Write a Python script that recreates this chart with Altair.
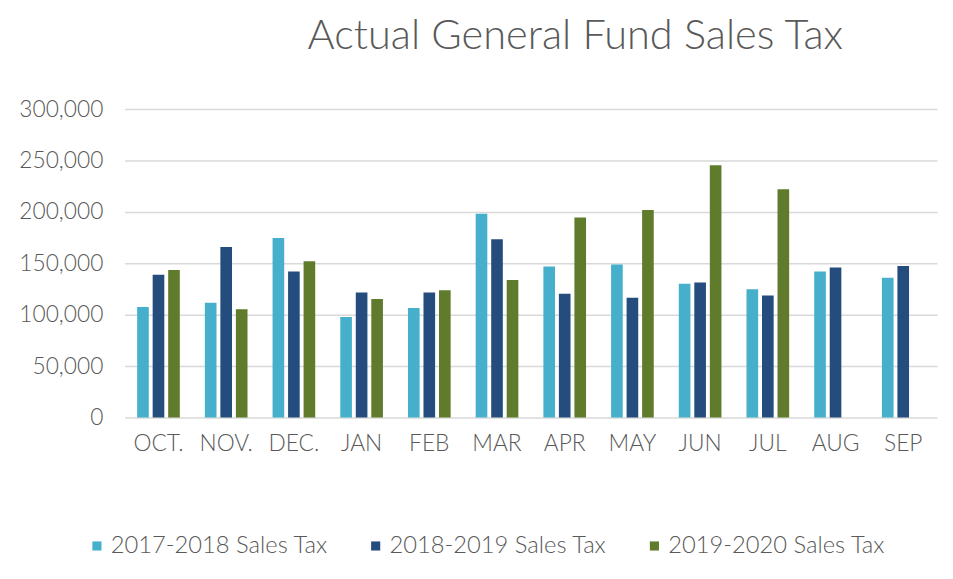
import altair as alt
import pandas as pd

months = ["OCT.", "NOV.", "DEC.", "JAN", "FEB", "MAR", "APR", "MAY", "JUN", "JUL", "AUG", "SEP"]
series = ["2017-2018 Sales Tax", "2018-2019 Sales Tax", "2019-2020 Sales Tax"]
fy2018 = [107400, 111700, 174600, 97800, 106500, 198300, 146900, 148900, 130000, 124800, 142100, 136000]
fy2019 = [138900, 165900, 142100, 121600, 121600, 173300, 120300, 116500, 131200, 118700, 146000, 147300]
fy2020 = [143400, 105200, 152100, 115200, 123800, 133800, 194500, 201800, 245500, 222000, None, None]
colors = ["#45afcc", "#244c7c", "#5f7b2b"]
y_ticks = [0, 50000, 100000, 150000, 200000, 250000, 300000]

rows = []
for s, vals in zip(series, [fy2018, fy2019, fy2020]):
    for m, v in zip(months, vals):
        if v is not None:
            rows.append({"month": m, "series": s, "value": v})
df = pd.DataFrame(rows)

FONT = "Lato"
W = 300
GRAY = "#595959"

bars = alt.Chart(df).mark_bar().encode(
    x=alt.X("month:N", sort=months,
            scale=alt.Scale(paddingInner=0.37, paddingOuter=0.185),
            axis=alt.Axis(title=None, labelAngle=0, labelFontSize=23, labelColor=GRAY,
                          labelFont=FONT, labelFontWeight=W, ticks=False, domain=False,
                          labelPadding=15)),
    xOffset=alt.XOffset("series:N", sort=series,
                        scale=alt.Scale(domain=series, paddingInner=0.25, paddingOuter=0)),
    y=alt.Y("value:Q",
            scale=alt.Scale(domain=[0, 300000], nice=False),
            axis=alt.Axis(title=None, values=y_ticks, format=",d", labelFontSize=23,
                          labelColor=GRAY, labelFont=FONT, labelFontWeight=W,
                          ticks=False, domain=False,
                          labelPadding=22, gridColor="#d9d9d9", gridWidth=1.5)),
    color=alt.Color("series:N", sort=series,
                    scale=alt.Scale(domain=series, range=colors),
                    legend=alt.Legend(title=None, orient="none", legendX=-40, legendY=430,
                                      direction="horizontal", symbolType="square",
                                      symbolSize=85, symbolStrokeWidth=0,
                                      labelFontSize=24, labelColor=GRAY, labelFont=FONT,
                                      labelFontWeight=W, labelLimit=0,
                                      columnPadding=36, labelOffset=2)),
)

frame = alt.Chart(alt.Data(values=[{}])).mark_rect(
    fill=None, stroke="#d4d4d4", strokeWidth=2.5, cornerRadius=4
).encode(
    x=alt.value(-120), x2=alt.value(836), y=alt.value(-104), y2=alt.value(468)
)

chart = alt.layer(frame, bars).properties(
    width=822,
    height=312,
    title=alt.TitleParams("Actual General Fund Sales Tax", fontSize=42, font=FONT,
                          fontWeight=W, color=GRAY, anchor="middle", dx=45,
                          baseline="alphabetic", offset=-86),
    autosize=alt.AutoSizeParams(type="none"),
    padding={"left": 118, "top": 99, "right": 8, "bottom": 150},
).configure_view(stroke=None)

chart.save("out.html", embed_options={"renderer": "svg", "actions": False})
